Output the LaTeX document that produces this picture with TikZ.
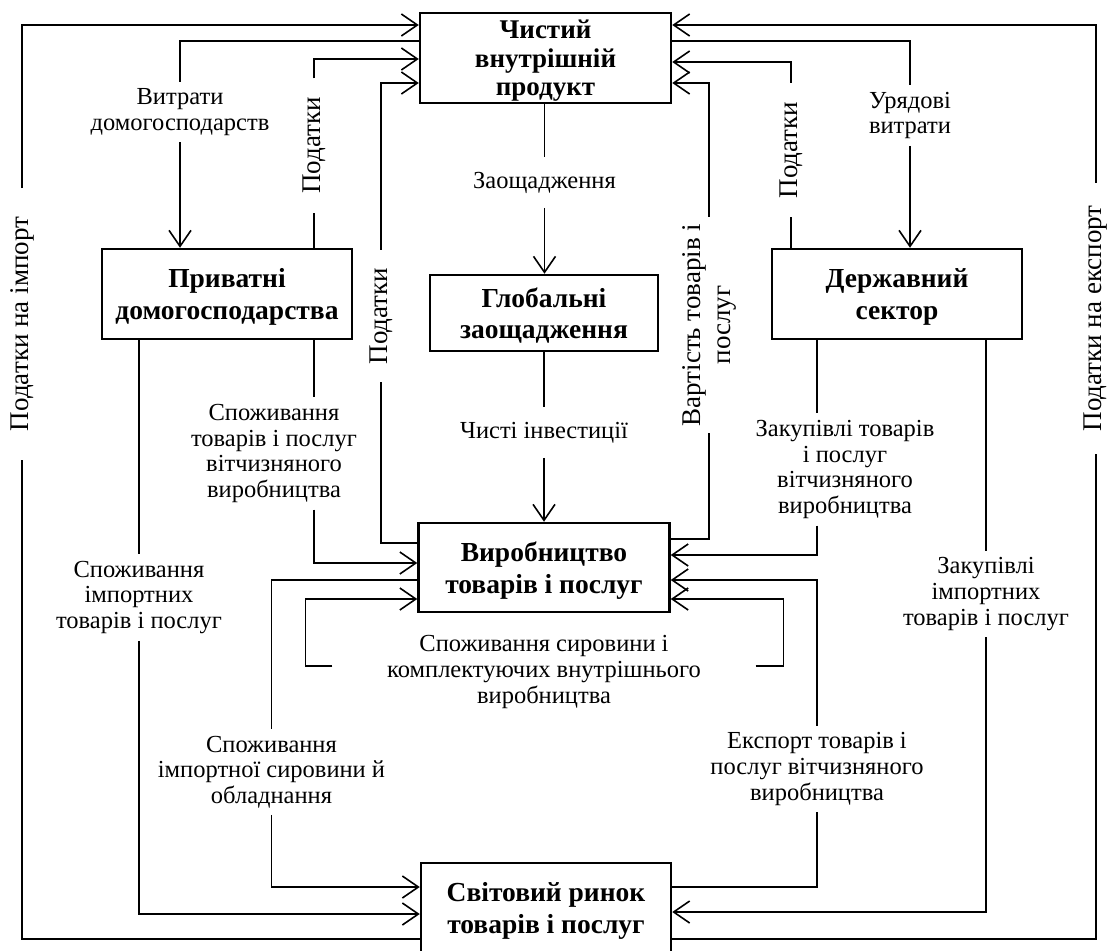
\documentclass[tikz,border=0pt]{standalone}
\usepackage{fontspec}
\setmainfont{Liberation Serif}
\usetikzlibrary{arrows.meta}

\begin{document}
\begin{tikzpicture}[x=1pt, y=-1pt, line width=1.6pt, >={Straight Barb[length=16pt,width=22pt]},
   sector/.style={draw, line width=2.5pt, align=center, inner sep=0pt, minimum height=90pt, text depth=0pt,
      font=\bfseries\fontsize{27.5}{31.5}\selectfont},
   flow/.style={align=center, inner xsep=5pt, inner ysep=6pt, font=\fontsize{24.5}{25.7}\selectfont},
   vflow/.style={flow, rotate=90, inner xsep=20pt, font=\fontsize{27}{30}\selectfont}]
   \useasboundingbox (0,0) rectangle (1110,950);
   \node (ndp)  at (545.5,58) [sector, minimum width=251pt, font=\bfseries\fontsize{27}{28.5}\selectfont] {Чистий\\внутрішній\\продукт};
   \node (hh)   at (227,294)  [sector, minimum width=250pt] {Приватні\\домогосподарства};
   \node (sav)  at (544,313)  [sector, minimum width=228pt, minimum height=76pt] {Глобальні\\заощадження};
   \node (gov)  at (897,294)  [sector, minimum width=250pt] {Державний\\сектор};
   \node (prod) at (544,567.5) [sector, minimum width=251pt, minimum height=89pt] {Виробництво\\товарів і послуг};
   \node (wm)   at (546,908)  [sector, minimum width=250pt] {Світовий ринок\\товарів і послуг};

   \node (lImp)    at (22,324)    [vflow, inner xsep=28pt] {Податки на імпорт};
   \node (lExpT)   at (1096,318.5) [vflow, inner xsep=22pt] {Податки на експорт};
   \node (lHHexp)  at (180,112)   [flow] {Витрати\\домогосподарств};
   \node (lTaxH)   at (314,145.5) [vflow, inner xsep=18pt] {Податки};
   \node (lTaxP)   at (381,316)   [vflow, inner xsep=17pt] {Податки};
   \node (lSav)    at (544.5,182.5) [flow, inner ysep=14pt] {Заощадження};
   \node (lInv)    at (544,432.5) [flow, inner ysep=14pt] {Чисті інвестиції};
   \node (lVal)    at (709,325)   [vflow, inner xsep=6pt] {Вартість товарів і\\послуг};
   \node (lTaxS)   at (791,150)   [vflow, inner xsep=18pt] {Податки};
   \node (lGov)    at (910,115.5) [flow] {Урядові\\витрати};
   \node (lHHdom)  at (274,453.5) [flow] {Споживання\\товарів і послуг\\вітчизняного\\виробництва};
   \node (lHHimp)  at (139,597.5) [flow] {Споживання\\імпортних\\товарів і послуг};
   \node (lGovDom) at (845,469.5) [flow] {Закупівлі товарів\\і послуг\\вітчизняного\\виробництва};
   \node (lGovImp) at (986,594)   [flow] {Закупівлі\\імпортних\\товарів і послуг};
   \node (lLoop)   at (544,672)   [flow, inner xsep=54pt] {Споживання сировини і\\комплектуючих внутрішнього\\виробництва};
   \node (lRaw)    at (271.5,772) [flow] {Споживання\\імпортної сировини й\\обладнання};
   \node (lExport) at (817,769)   [flow] {Експорт товарів і\\послуг вітчизняного\\виробництва};
   \coordinate (xHHdom) at (314,0);
   \coordinate (xGovDom) at (817,0);

   \draw (wm.west |- 0,939) -| (lImp);
   \draw[->] (lImp) |- (ndp.west |- 0,25);
   \draw (ndp.west |- 0,41) -| (lHHexp);
   \draw[->] (lHHexp) -- (hh.north -| lHHexp);
   \draw (hh.north -| lTaxH) -- (lTaxH);
   \draw[->] (lTaxH) |- (ndp.west |- 0,59);
   \draw (prod.west |- 0,543) -| (lTaxP);
   \draw[->] (lTaxP) |- (ndp.west |- 0,83);
   \draw (ndp.south -| lSav) -- (lSav);
   \draw[->] (lSav) -- (sav.north -| lSav);
   \draw (sav.south -| lInv) -- (lInv);
   \draw[->] (lInv) -- (prod.north -| lInv);
   \draw (prod.east |- 0,539) -| (lVal);
   \draw[->] (lVal) |- (ndp.east |- 0,83);
   \draw (gov.north -| lTaxS) -- (lTaxS);
   \draw[->] (lTaxS) |- (ndp.east |- 0,62);
   \draw (ndp.east |- 0,41) -| (lGov);
   \draw[->] (lGov) -- (gov.north -| lGov);
   \draw (wm.east |- 0,939) -| (lExpT);
   \draw[->] (lExpT) |- (ndp.east |- 0,25);

   \draw (hh.south -| xHHdom) -- (lHHdom.north -| xHHdom);
   \draw[->] (lHHdom.south -| xHHdom) |- (prod.west |- 0,563);
   \draw (hh.south -| lHHimp) -- (lHHimp);
   \draw[->] (lHHimp) |- (wm.west |- 0,914);
   \draw (gov.south -| xGovDom) -- (lGovDom.north -| xGovDom);
   \draw[->] (lGovDom.south -| xGovDom) |- (prod.east |- 0,555);
   \draw (gov.south -| lGovImp) -- (lGovImp);
   \draw[->] (lGovImp) |- (wm.east |- 0,912);
   \draw (prod.west |- 0,580) -| (lRaw);
   \draw[->] (lRaw) |- (wm.west |- 0,887);
   \draw (wm.east |- 0,887) -| (lExport);
   \draw[->] (lExport) |- (prod.east |- 0,580);
   \draw[->] ([yshift=6pt]lLoop.west) -- ++(-27,0) |- (prod.west |- 0,599);
   \draw[->] ([yshift=6pt]lLoop.east) -- ++(28,0) |- (prod.east |- 0,599);
\end{tikzpicture}
\end{document}
